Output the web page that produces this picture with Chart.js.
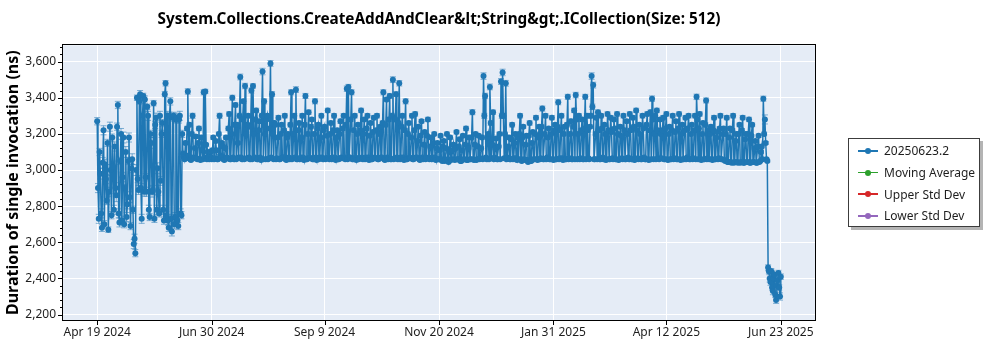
<!DOCTYPE html>
<html>
<head>
<meta charset="utf-8">
<title>CreateAddAndClear ICollection benchmark</title>
<script src="https://cdn.jsdelivr.net/npm/chart.js@4.4.1/dist/chart.umd.min.js"></script>
<style>
  html, body { margin: 0; padding: 0; background: #fff; }
  #wrap { position: relative; width: 1000px; height: 350px; }
  #legend {
    position: absolute; left: 848px; top: 138px; width: 132px; height: 89px;
    box-sizing: border-box; border: 1px solid #3c3c3c; background: #fff;
    box-shadow: 3px 3px 0 #b4b4b4; padding-top: 1px;
    font: 12px "Noto Sans", sans-serif; color: #1e1e1e;
  }
  .item { height: 21.7px; display: flex; align-items: center; white-space: nowrap; }
  .sw { position: relative; width: 20px; height: 1.5px; margin-left: 9px; margin-right: 6px; }
  .sw i { position: absolute; left: 7px; top: -2.25px; width: 6px; height: 6px; border-radius: 50%; }
</style>
</head>
<body>
<div id="wrap">
  <canvas id="c" width="1000" height="350"></canvas>
  <div id="legend"></div>
</div>
<script>
// First day of the benchmark history; entry i of each array belongs to day i
const firstDay = '2024-04-19';

// Morning run: mean duration of a single invocation (ns), one entry per day
const durations = [
  3270, 2730, 2980, 2680, 3220, 3030, 2830, 2670, 3240, 2750,
  3020, 3130, 2860, 3360, 2710, 3200, 2960, 2700, 3100, 2810,
  3180, 2690, 3060, 2590, 2540, 3400, 2890, 3420, 2730, 3410,
  3390, 2880, 3300, 2740, 3150, 2890, 2730, 3290, 3010, 2760,
  2940, 3260, 2720, 3480, 3300, 2680, 3380, 2660, 3300, 2740,
  3290, 2690, 3300, 2750, 3090,
  3060, 3065, 3435, 3250, 3055, 3300, 3065, 3185, 3060, 3230,
  3055, 3110, 3430, 3435, 3060, 3070, 3100, 3060, 3180, 3065,
  3110, 3060, 3300, 3070, 3130, 3055, 3180, 3065, 3310, 3060,
  3400, 3060, 3360, 3250, 3070, 3515, 3060, 3380, 3465, 3065,
  3300, 3060, 3440, 3465, 3070, 3330, 3060, 3270, 3055, 3545,
  3380, 3060, 3300, 3065, 3590, 3420, 3060, 3250, 3065, 3290,
  3060, 3250, 3070, 3300, 3055, 3200, 3060, 3430, 3065, 3300,
  3445, 3060, 3260, 3070, 3300, 3055, 3410, 3060, 3320, 3065,
  3280, 3060, 3380, 3055, 3250, 3070, 3300, 3060, 3240, 3065,
  3330, 3060, 3260, 3070, 3300, 3055, 3220, 3060, 3270, 3065,
  3300, 3060, 3450, 3460, 3070, 3430, 3060, 3300, 3055, 3250,
  3065, 3330, 3060, 3280, 3070, 3300, 3055, 3260, 3060, 3290,
  3065, 3300, 3060, 3240, 3070, 3430, 3055, 3390, 3060, 3410,
  3060, 3500, 3065, 3420, 3060, 3480, 3070, 3300, 3055, 3380,
  3060, 3260, 3065, 3300, 3060, 3310, 3070, 3240, 3055, 3270,
  3060, 3210, 3065, 3280, 3060, 3180, 3070, 3200, 3055, 3150,
  3060, 3190, 3050, 3160, 3055, 3200, 3045, 3180, 3060, 3140,
  3055, 3210, 3060, 3170, 3050, 3190, 3060, 3230, 3055, 3180,
  3060, 3320, 3055, 3200, 3060, 3190, 3065, 3180, 3520, 3410,
  3060, 3200, 3460, 3065, 3320, 3070, 3175, 3060, 3200, 3490,
  3540, 3065, 3480, 3070, 3180, 3060, 3250, 3065, 3200, 3055,
  3060, 3300, 3050, 3240, 3055, 3190, 3045, 3260, 3050, 3210,
  3060, 3290, 3055, 3240, 3065, 3340, 3060, 3300, 3070, 3230,
  3060, 3290, 3055, 3250, 3060, 3375, 3065, 3300, 3055, 3240,
  3060, 3405, 3065, 3270, 3060, 3330, 3415, 3060, 3300, 3065,
  3280, 3060, 3405, 3300, 3065, 3240, 3520, 3470, 3060, 3290,
  3320, 3060, 3300, 3070, 3250, 3055, 3310, 3060, 3290, 3065,
  3280, 3060, 3310, 3055, 3240, 3065, 3300, 3060, 3270, 3070,
  3310, 3060, 3290, 3055, 3330, 3065, 3250, 3060, 3300, 3070,
  3060, 3310, 3055, 3320, 3395, 3060, 3300, 3330, 3065, 3280,
  3065, 3290, 3060, 3310, 3055, 3240, 3060, 3300, 3065, 3270,
  3060, 3310, 3055, 3250, 3060, 3290, 3070, 3300, 3060, 3250,
  3065, 3300, 3405, 3060, 3310, 3055, 3260, 3060, 3385, 3065,
  3060, 3240, 3055, 3290, 3060, 3210, 3065, 3300, 3060, 3230,
  3050, 3290, 3045, 3230, 3040, 3300, 3045, 3200, 3040, 3250,
  3045, 3290, 3040, 3200, 3045, 3280, 3040, 3250, 3045, 3160,
  3040, 3190, 3050, 3130, 3395, 3280, 3060,
  2460, 2400, 2440, 2330, 2420, 2280, 2390, 2350, 2410
];

// Error (ns) of each morning run
const errors = [
  20, 25, 30, 20, 25, 30, 20, 15, 25, 20,
  30, 25, 35, 20, 25, 30, 25, 20, 30, 25,
  25, 20, 30, 25, 20, 15, 25, 20, 25, 15,
  20, 25, 25, 20, 30, 25, 20, 25, 30, 20,
  25, 20, 20, 15, 25, 20, 20, 25, 20, 25,
  25, 20, 25, 20, 15,
  6, 6, 15, 12, 6, 14, 6, 10, 6, 12,
  6, 8, 14, 12, 6, 6, 8, 6, 10, 6,
  8, 6, 14, 6, 8, 6, 10, 6, 12, 6,
  14, 6, 12, 10, 6, 16, 6, 12, 15, 6,
  12, 6, 14, 12, 6, 12, 6, 10, 6, 18,
  14, 6, 12, 6, 16, 14, 6, 10, 6, 12,
  6, 10, 6, 12, 6, 10, 6, 14, 6, 12,
  16, 6, 10, 6, 12, 6, 14, 6, 12, 6,
  10, 6, 14, 6, 10, 6, 12, 6, 10, 6,
  12, 6, 10, 6, 12, 6, 10, 6, 12, 6,
  12, 6, 15, 14, 6, 14, 6, 12, 6, 10,
  6, 12, 6, 10, 6, 12, 6, 10, 6, 12,
  6, 12, 6, 10, 6, 14, 6, 12, 6, 14,
  6, 16, 6, 14, 6, 15, 6, 12, 6, 14,
  6, 10, 6, 12, 6, 12, 6, 10, 6, 10,
  6, 10, 6, 12, 6, 10, 6, 10, 6, 8,
  6, 10, 6, 8, 6, 10, 6, 10, 6, 8,
  6, 10, 6, 8, 6, 10, 6, 12, 6, 10,
  6, 14, 6, 10, 6, 10, 6, 10, 18, 15,
  6, 10, 16, 6, 12, 6, 10, 6, 10, 16,
  18, 6, 16, 6, 10, 6, 12, 6, 10, 6,
  6, 12, 6, 10, 6, 10, 6, 12, 6, 10,
  6, 12, 6, 10, 6, 14, 6, 12, 6, 10,
  6, 12, 6, 10, 6, 14, 6, 12, 6, 10,
  6, 14, 6, 12, 6, 12, 15, 6, 12, 6,
  12, 6, 14, 12, 6, 10, 18, 16, 6, 12,
  12, 6, 12, 6, 10, 6, 12, 6, 12, 6,
  12, 6, 12, 6, 10, 6, 12, 6, 10, 6,
  12, 6, 12, 6, 12, 6, 10, 6, 12, 6,
  6, 12, 6, 12, 15, 6, 12, 12, 6, 10,
  6, 12, 6, 12, 6, 10, 6, 12, 6, 10,
  6, 12, 6, 10, 6, 12, 6, 12, 6, 10,
  6, 12, 15, 6, 12, 6, 10, 6, 14, 6,
  6, 10, 6, 12, 6, 10, 6, 12, 6, 10,
  6, 12, 6, 10, 6, 12, 6, 10, 6, 10,
  6, 12, 6, 10, 6, 12, 6, 10, 6, 8,
  6, 10, 6, 8, 14, 25, 6,
  15, 20, 15, 20, 15, 18, 20, 15, 15
];

// Evening run: mean duration (ns), one entry per day (none on the final day)
const eveningDurations = [
  2900, 3100, 2760, 3040, 2700, 2950, 3150, 2880, 3000, 3180,
  2780, 2900, 3240, 2760, 3050, 2720, 3180, 2900, 2740, 3050,
  2850, 3010, 2780, 2620, 3000, 2950, 3380, 2900, 3300, 2880,
  2960, 3350, 2780, 3200, 2880, 3370, 3250, 2780, 2880, 3300,
  3200, 2780, 3420, 2750, 2720, 3300, 2730, 3290, 2700, 3280,
  2720, 3280, 2760, 3200, 3070,
  3150, 3230, 3080, 3060, 3200, 3070, 3120, 3065, 3150, 3060,
  3180, 3060, 3070, 3140, 3100, 3060, 3070, 3110, 3060, 3160,
  3060, 3200, 3080, 3150, 3060, 3120, 3070, 3230, 3060, 3200,
  3070, 3250, 3060, 3150, 3300, 3070, 3280, 3060, 3200, 3250,
  3070, 3240, 3060, 3200, 3280, 3060, 3220, 3070, 3300, 3060,
  3200, 3280, 3060, 3230, 3070, 3200, 3260, 3060, 3180, 3060,
  3200, 3070, 3220, 3060, 3180, 3070, 3250, 3060, 3200, 3070,
  3060, 3220, 3060, 3180, 3070, 3250, 3060, 3200, 3070, 3240,
  3060, 3200, 3070, 3230, 3060, 3180, 3070, 3220, 3060, 3190,
  3070, 3200, 3060, 3220, 3070, 3180, 3060, 3200, 3070, 3230,
  3070, 3250, 3060, 3070, 3280, 3060, 3220, 3070, 3200, 3060,
  3220, 3070, 3200, 3060, 3230, 3070, 3190, 3060, 3210, 3070,
  3220, 3060, 3200, 3070, 3260, 3060, 3250, 3070, 3280, 3060,
  3300, 3060, 3280, 3070, 3260, 3060, 3240, 3070, 3220, 3060,
  3200, 3070, 3180, 3060, 3220, 3070, 3160, 3060, 3190, 3070,
  3140, 3060, 3190, 3070, 3130, 3060, 3150, 3070, 3120, 3060,
  3110, 3060, 3130, 3050, 3120, 3060, 3100, 3055, 3110, 3060,
  3120, 3060, 3130, 3050, 3110, 3060, 3140, 3055, 3120, 3060,
  3180, 3060, 3140, 3055, 3130, 3060, 3120, 3060, 3300, 3070,
  3180, 3060, 3260, 3140, 3060, 3120, 3060, 3130, 3060, 3300,
  3300, 3200, 3060, 3130, 3060, 3170, 3060, 3150, 3065, 3180,
  3200, 3060, 3180, 3060, 3140, 3055, 3190, 3050, 3150, 3060,
  3200, 3060, 3180, 3060, 3240, 3060, 3200, 3060, 3180, 3060,
  3200, 3060, 3220, 3060, 3240, 3060, 3220, 3065, 3200, 3060,
  3250, 3060, 3200, 3060, 3240, 3060, 3280, 3200, 3060, 3220,
  3060, 3230, 3060, 3220, 3060, 3300, 3350, 3060, 3200, 3060,
  3220, 3060, 3230, 3060, 3200, 3060, 3220, 3060, 3210, 3060,
  3230, 3060, 3200, 3060, 3190, 3060, 3220, 3060, 3200, 3060,
  3220, 3060, 3240, 3060, 3220, 3060, 3200, 3060, 3230, 3060,
  3250, 3060, 3220, 3060, 3280, 3200, 3060, 3220, 3060, 3200,
  3220, 3060, 3230, 3060, 3200, 3060, 3220, 3060, 3210, 3060,
  3230, 3060, 3200, 3060, 3220, 3060, 3230, 3060, 3200, 3060,
  3220, 3060, 3280, 3230, 3060, 3200, 3060, 3250, 3060, 3220,
  3200, 3060, 3220, 3060, 3180, 3060, 3230, 3060, 3200, 3055,
  3200, 3045, 3180, 3045, 3220, 3040, 3160, 3045, 3200, 3040,
  3220, 3040, 3170, 3045, 3200, 3040, 3190, 3045, 3120, 3040,
  3130, 3045, 3100, 3060, 3200, 3150, 3050,
  2440, 2380, 2350, 2400, 2310, 2360, 2430, 2300
];

// Error (ns) of each evening run
const eveningErrors = [
  25, 20, 25, 30, 20, 25, 20, 25, 30, 20,
  25, 30, 20, 25, 20, 25, 30, 20, 25, 20,
  30, 25, 20, 25, 30, 20, 15, 25, 20, 25,
  20, 15, 25, 20, 30, 15, 20, 25, 20, 25,
  20, 25, 15, 20, 25, 20, 25, 20, 25, 20,
  25, 20, 25, 20, 15,
  10, 12, 6, 6, 10, 6, 8, 6, 10, 6,
  10, 6, 6, 8, 6, 6, 6, 8, 6, 10,
  6, 10, 6, 8, 6, 8, 6, 12, 6, 10,
  6, 12, 6, 8, 14, 6, 12, 6, 10, 12,
  6, 12, 6, 10, 12, 6, 10, 6, 14, 6,
  10, 12, 6, 10, 6, 10, 12, 6, 10, 6,
  10, 6, 10, 6, 8, 6, 12, 6, 10, 6,
  6, 10, 6, 8, 6, 12, 6, 10, 6, 12,
  6, 10, 6, 10, 6, 8, 6, 10, 6, 8,
  6, 10, 6, 10, 6, 8, 6, 10, 6, 10,
  6, 12, 6, 6, 12, 6, 10, 6, 10, 6,
  10, 6, 10, 6, 10, 6, 8, 6, 10, 6,
  10, 6, 10, 6, 12, 6, 12, 6, 12, 6,
  14, 6, 12, 6, 12, 6, 10, 6, 10, 6,
  10, 6, 8, 6, 10, 6, 8, 6, 8, 6,
  8, 6, 8, 6, 8, 6, 8, 6, 8, 6,
  8, 6, 8, 6, 8, 6, 6, 6, 8, 6,
  8, 6, 8, 6, 8, 6, 8, 6, 8, 6,
  8, 6, 8, 6, 8, 6, 8, 6, 14, 6,
  8, 6, 12, 8, 6, 8, 6, 8, 6, 14,
  14, 10, 6, 8, 6, 8, 6, 8, 6, 8,
  10, 6, 8, 6, 8, 6, 8, 6, 8, 6,
  10, 6, 8, 6, 10, 6, 10, 6, 8, 6,
  10, 6, 10, 6, 10, 6, 10, 6, 10, 6,
  12, 6, 10, 6, 10, 6, 12, 10, 6, 10,
  6, 10, 6, 10, 6, 14, 15, 6, 10, 6,
  10, 6, 10, 6, 10, 6, 10, 6, 10, 6,
  10, 6, 10, 6, 8, 6, 10, 6, 10, 6,
  10, 6, 10, 6, 10, 6, 10, 6, 10, 6,
  12, 6, 10, 6, 12, 10, 6, 10, 6, 10,
  10, 6, 10, 6, 10, 6, 10, 6, 10, 6,
  10, 6, 10, 6, 10, 6, 10, 6, 10, 6,
  10, 6, 12, 10, 6, 10, 6, 12, 6, 10,
  10, 6, 10, 6, 8, 6, 10, 6, 10, 6,
  10, 6, 8, 6, 10, 6, 8, 6, 10, 6,
  10, 6, 8, 6, 10, 6, 8, 6, 8, 6,
  8, 6, 8, 6, 10, 8, 6,
  15, 18, 15, 20, 15, 18, 15, 20
];

// Other series shown in the legend (no values in this run)
const movingAverage = [];
const upperStdDev = [];
const lowerStdDev = [];

// Labelled dates on the time axis
const dateTicks = ['2024-04-19', '2024-06-30', '2024-09-09', '2024-11-20', '2025-01-31', '2025-04-12', '2025-06-23'];

const chartTitle = 'System.Collections.CreateAddAndClear&lt;String&gt;.ICollection(Size: 512)';
const yTitle = 'Duration of single invocation (ns)';
const seriesNames = ['20250623.2', 'Moving Average', 'Upper Std Dev', 'Lower Std Dev'];

const FONT = '"Noto Sans", sans-serif';
const COLORS = ['#1f77b4', '#2ca02c', '#d62728', '#9467bd'];
const MONTHS = ['Jan', 'Feb', 'Mar', 'Apr', 'May', 'Jun', 'Jul', 'Aug', 'Sep', 'Oct', 'Nov', 'Dec'];
const DAY = 86400000;

function parseDay(s) {
  const [y, m, d] = s.split('-').map(Number);
  return Date.UTC(y, m - 1, d);
}
const origin = parseDay(firstDay);
const dayOffset = s => Math.round((parseDay(s) - origin) / DAY);
function dayLabel(v) {
  const d = new Date(origin + Math.round(v) * DAY);
  return MONTHS[d.getUTCMonth()] + ' ' + d.getUTCDate() + ' ' + d.getUTCFullYear();
}

// Both runs of each day, in time order (evening run half a day after the morning run)
const mainPoints = [];
durations.forEach((v, i) => {
  mainPoints.push({ x: i, y: v, e: errors[i] });
  if (i < eveningDurations.length) {
    mainPoints.push({ x: i + 0.5, y: eveningDurations[i], e: eveningErrors[i] });
  }
});
const lastDay = durations.length - 1;
const xPad = lastDay * 0.05;

// Plot-area background, frame and outward tick marks
const frame = {
  id: 'frame',
  beforeDraw(chart) {
    const a = chart.chartArea, c = chart.ctx;
    c.save();
    c.fillStyle = '#e5ecf6';
    c.fillRect(a.left, a.top, a.right - a.left, a.bottom - a.top);
    c.restore();
  },
  afterDraw(chart) {
    const a = chart.chartArea, c = chart.ctx;
    c.save();
    c.strokeStyle = '#000';
    c.lineWidth = 1;
    c.strokeRect(Math.round(a.left) - 0.5, Math.round(a.top) - 0.5, Math.round(a.right - a.left) + 1, Math.round(a.bottom - a.top) + 1);
    const ys = chart.scales.y, xs = chart.scales.x;
    c.beginPath();
    ys.ticks.forEach(t => {
      const p = Math.round(ys.getPixelForValue(t.value)) + 0.5;
      const len = t.value % 200 === 0 ? 5 : 3;
      c.moveTo(a.left - len, p); c.lineTo(a.left, p);
    });
    xs.ticks.forEach(t => {
      const p = Math.round(xs.getPixelForValue(t.value)) + 0.5;
      c.moveTo(p, a.bottom); c.lineTo(p, a.bottom + 5);
    });
    c.stroke();
    c.restore();
  }
};

// Vertical error bars with caps
const errorBars = {
  id: 'errorBars',
  beforeDatasetsDraw(chart) {
    const meta = chart.getDatasetMeta(0);
    const ys = chart.scales.y, c = chart.ctx, a = chart.chartArea;
    const pts = chart.data.datasets[0].data;
    c.save();
    c.beginPath();
    c.rect(a.left, a.top, a.right - a.left, a.bottom - a.top);
    c.clip();
    c.strokeStyle = 'rgba(31,119,180,0.55)';
    c.lineWidth = 1;
    c.beginPath();
    meta.data.forEach((el, i) => {
      const d = pts[i];
      const y1 = ys.getPixelForValue(d.y - d.e), y2 = ys.getPixelForValue(d.y + d.e);
      const x = el.x;
      c.moveTo(x, y1); c.lineTo(x, y2);
      c.moveTo(x - 3, y1); c.lineTo(x + 3, y1);
      c.moveTo(x - 3, y2); c.lineTo(x + 3, y2);
    });
    c.stroke();
    c.restore();
  }
};

const seriesData = [mainPoints, movingAverage, upperStdDev, lowerStdDev];
const chart = new Chart(document.getElementById('c'), {
  type: 'line',
  data: {
    datasets: seriesNames.map((name, k) => ({
      label: name,
      data: seriesData[k],
      borderColor: COLORS[k],
      backgroundColor: COLORS[k],
      pointBackgroundColor: COLORS[k],
      borderWidth: 1.5,
      pointRadius: 3,
      pointHoverRadius: 3,
      pointBorderWidth: 0,
      tension: 0
    }))
  },
  options: {
    responsive: false,
    animation: false,
    events: [],
    layout: { padding: { left: 0, right: 185, top: 0, bottom: 0 } },
    plugins: {
      legend: { display: false },
      tooltip: { enabled: false },
      title: {
        display: true,
        fullSize: false,
        text: chartTitle,
        color: '#000',
        font: { family: FONT, size: 15.3, weight: 'bold', lineHeight: 1.2 },
        padding: { top: 10, bottom: 17 }
      }
    },
    scales: {
      x: {
        type: 'linear',
        min: -xPad,
        max: lastDay + xPad,
        afterBuildTicks(s) { s.ticks = dateTicks.map(t => ({ value: dayOffset(t) })); },
        afterFit(s) { s.height = 30; },
        ticks: {
          autoSkip: false, maxRotation: 0, padding: 5,
          color: '#1e1e1e', font: { family: FONT, size: 12 },
          callback: v => dayLabel(v)
        },
        grid: { color: '#ffffff', lineWidth: 1, drawTicks: false },
        border: { display: false }
      },
      y: {
        min: 2170,
        max: 3690,
        afterBuildTicks(s) {
          const t = [];
          for (let v = 2200; v <= 3680; v += 40) t.push({ value: v });
          s.ticks = t;
        },
        afterFit(s) { s.width = 63; },
        ticks: {
          autoSkip: false, padding: 7,
          color: '#1e1e1e', font: { family: FONT, size: 12 },
          callback: v => (v % 200 === 0 ? v.toLocaleString('en-US') : '')
        },
        grid: {
          drawTicks: false,
          lineWidth: 1,
          color: c => (c.tick && c.tick.value % 200 === 0 ? '#ffffff' : 'rgba(0,0,0,0)')
        },
        border: { display: false },
        title: {
          display: true,
          text: yTitle,
          color: '#000',
          font: { family: FONT, size: 16, weight: 'bold', lineHeight: 1.2 },
          padding: { top: 4, bottom: 0 }
        }
      }
    }
  },
  plugins: [frame, errorBars]
});

// Legend box built from the chart's datasets
const legend = document.getElementById('legend');
chart.data.datasets.forEach(ds => {
  const row = document.createElement('div');
  row.className = 'item';
  const sw = document.createElement('span');
  sw.className = 'sw';
  sw.style.background = ds.borderColor;
  const dot = document.createElement('i');
  dot.style.background = ds.borderColor;
  sw.appendChild(dot);
  const txt = document.createElement('span');
  txt.textContent = ds.label;
  row.appendChild(sw);
  row.appendChild(txt);
  legend.appendChild(row);
});
</script>
</body>
</html>
